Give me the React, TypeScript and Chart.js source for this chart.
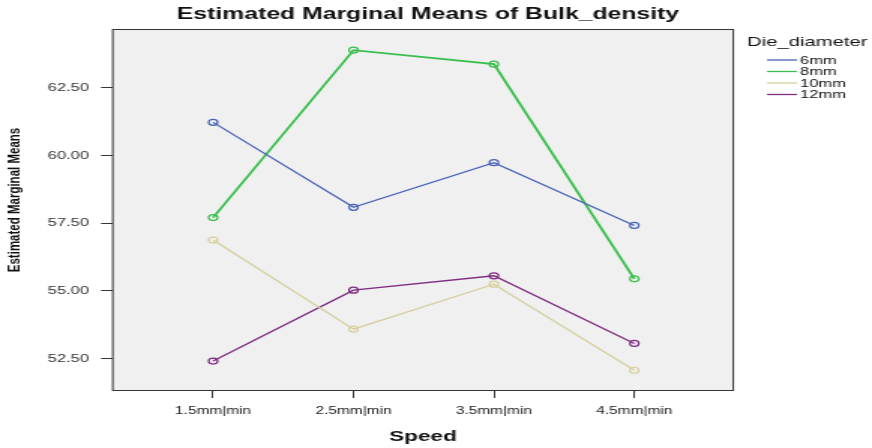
import React, { useEffect, useRef } from "react";
import { Chart, registerables } from "chart.js";

Chart.register(...registerables);

// ---- data ----
const speedLabels = ["1.5mm|min", "2.5mm|min", "3.5mm|min", "4.5mm|min"];
const seriesNames = ["6mm", "8mm", "10mm", "12mm"];
const values6mm = [61.23, 58.09, 59.74, 57.42];
const values8mm = [57.71, 63.9, 63.38, 55.45];
const values10mm = [56.88, 53.59, 55.25, 52.07];
const values12mm = [52.41, 55.03, 55.56, 53.06];
const yTickValues = [52.5, 55.0, 57.5, 60.0, 62.5];
const seriesColors = ["#4862B8", "#38BE4C", "#D6D09E", "#7E2C80"];

const chartTitle = "Estimated Marginal Means of Bulk_density";
const yTitle = "Estimated Marginal Means";
const xTitle = "Speed";
const legendTitle = "Die_diameter";

// canvas is drawn narrow and stretched horizontally (like the reference)
const W = 581;
const H = 448;
const SX = 872 / W;
const FONT = "'Liberation Sans', Arial, sans-serif";

const decor = {
  id: "decor",
  beforeDraw(chart: any) {
    const { ctx, chartArea: a, width, height } = chart;
    ctx.save();
    ctx.fillStyle = "#ffffff";
    ctx.fillRect(0, 0, width, height);
    ctx.fillStyle = "#F0F0F0";
    ctx.fillRect(a.left, a.top, a.right - a.left, a.bottom - a.top);
    ctx.restore();
  },
  afterDraw(chart: any) {
    const { ctx, chartArea: a } = chart;
    ctx.save();
    // plot frame
    ctx.strokeStyle = "#333333";
    ctx.lineWidth = 1;
    ctx.strokeRect(a.left + 0.5, a.top + 0.5, a.right - a.left - 1, a.bottom - a.top);
    // main title
    ctx.fillStyle = "#111111";
    ctx.font = `bold 16.5px ${FONT}`;
    ctx.textAlign = "center";
    ctx.textBaseline = "alphabetic";
    ctx.fillText(chartTitle, 428 / SX, 18.5);
    // y axis title
    ctx.save();
    ctx.translate(13, 200);
    ctx.rotate(-Math.PI / 2);
    ctx.font = `bold 11.5px ${FONT}`;
    ctx.textAlign = "center";
    ctx.textBaseline = "alphabetic";
    ctx.fillText(yTitle, 0, 0);
    ctx.restore();
    // x axis title
    ctx.font = `bold 15px ${FONT}`;
    ctx.textAlign = "center";
    ctx.textBaseline = "middle";
    ctx.fillText(xTitle, (a.left + a.right) / 2, 437);
    // legend
    ctx.textAlign = "left";
    ctx.font = `13.5px ${FONT}`;
    ctx.fillStyle = "#111111";
    ctx.fillText(legendTitle, 747 / SX, 42);
    ctx.font = `11px ${FONT}`;
    const rows = [60, 71.5, 83, 94.5];
    chart.data.datasets.forEach((ds: any, i: number) => {
      const y = rows[i];
      ctx.strokeStyle = ds.borderColor;
      ctx.lineWidth = 1.3;
      ctx.beginPath();
      ctx.moveTo(767 / SX, y);
      ctx.lineTo(797 / SX, y);
      ctx.stroke();
      ctx.fillStyle = "#111111";
      ctx.fillText(ds.label, 800 / SX, y + 0.5);
    });
    ctx.restore();
  },
};

export default function App() {
  const ref = useRef<HTMLCanvasElement | null>(null);

  useEffect(() => {
    if (!ref.current) return;
    const all = [values6mm, values8mm, values10mm, values12mm];
    const chart = new Chart(ref.current, {
      type: "line",
      data: {
        datasets: all.map((vals, i) => ({
          label: seriesNames[i],
          data: vals.map((v, j) => ({ x: j, y: v })),
          borderColor: seriesColors[i],
          backgroundColor: "transparent",
          borderWidth: i === 1 ? 1.8 : 1.3,
          pointRadius: 3,
          pointBorderWidth: 1.2,
          pointBackgroundColor: "transparent",
          pointBorderColor: seriesColors[i],
          tension: 0,
          fill: false,
        })),
      },
      options: {
        responsive: false,
        animation: false,
        events: [],
        layout: { padding: { top: 29, right: W - 734 / SX, left: 0, bottom: 0 } },
        plugins: {
          legend: { display: false },
          title: { display: false },
          tooltip: { enabled: false },
        },
        scales: {
          x: {
            type: "linear",
            min: -0.72,
            max: 3.71,
            afterFit: (s: any) => {
              s.height = H - 390;
            },
            afterBuildTicks: (s: any) => {
              s.ticks = speedLabels.map((_, i) => ({ value: i }));
            },
            ticks: {
              autoSkip: false,
              maxRotation: 0,
              padding: 7,
              color: "#222222",
              font: { family: FONT, size: 10.3 },
              callback: (v: any) => speedLabels[Math.round(Number(v))] ?? "",
            },
            grid: {
              drawOnChartArea: false,
              drawTicks: true,
              tickLength: 8,
              color: "#333333",
            },
            border: { display: false },
          },
          y: {
            type: "linear",
            min: 51.34,
            max: 64.68,
            afterFit: (s: any) => {
              s.width = 112 / SX;
            },
            afterBuildTicks: (s: any) => {
              s.ticks = yTickValues.map((v) => ({ value: v }));
            },
            ticks: {
              padding: 8,
              color: "#333333",
              font: { family: FONT, size: 11 },
              callback: (v: any) => Number(v).toFixed(2),
            },
            grid: {
              drawOnChartArea: false,
              drawTicks: true,
              tickLength: 7.3,
              color: "#333333",
            },
            border: { display: false },
          },
        },
      },
      plugins: [decor],
    } as any);
    return () => chart.destroy();
  }, []);

  return (
    <div
      style={{
        position: "fixed",
        left: 0,
        top: 0,
        width: W,
        height: H,
        transform: `scaleX(${SX})`,
        transformOrigin: "0 0",
      }}
    >
      <canvas ref={ref} width={W} height={H} style={{ width: W, height: H, display: "block" }} />
    </div>
  );
}
